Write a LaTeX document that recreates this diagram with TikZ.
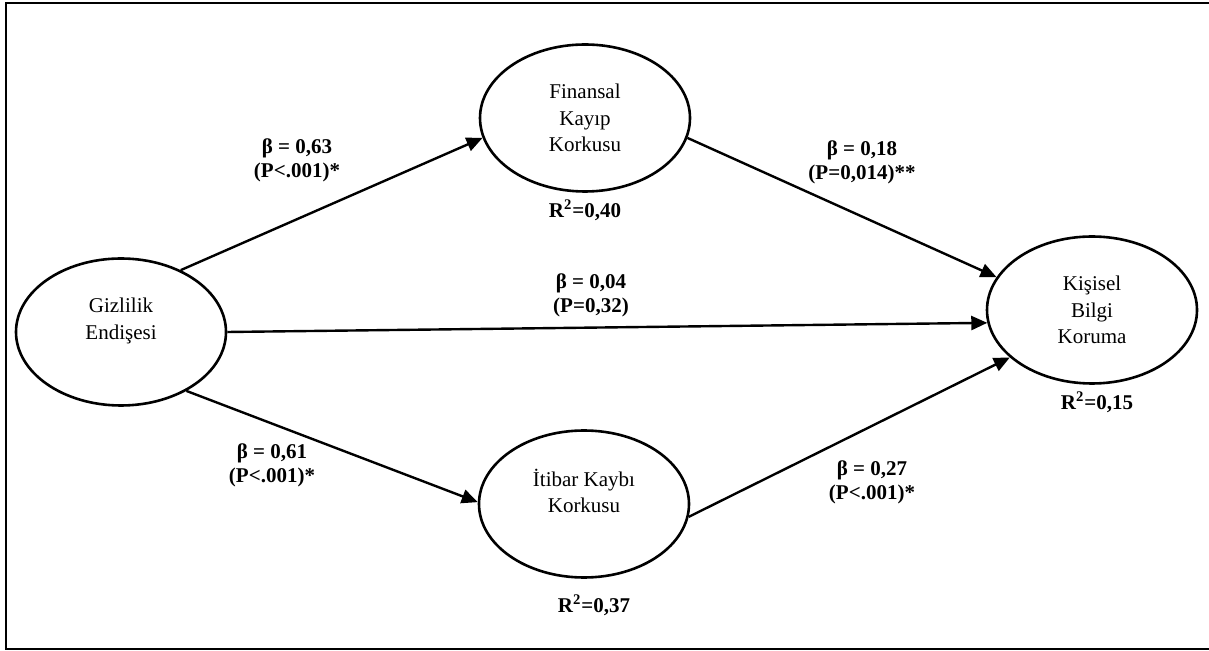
\documentclass[tikz,border=0pt]{standalone}
\usepackage{fontspec}
\setmainfont{Liberation Serif}
\usetikzlibrary{shapes.geometric,positioning,arrows.meta}
\tikzset{
  >={Triangle[length=8pt,width=7pt]},
  construct/.style={ellipse,draw,line width=1.3pt,minimum width=105pt,
    minimum height=73.5pt,align=center,font=\fontsize{10.5}{13.25}\selectfont},
  coef/.style={align=center,font=\bfseries\fontsize{10.5}{12}\selectfont},
  rsq/.style={font=\bfseries\fontsize{10.5}{12}\selectfont},
  link/.style={->,line width=1.2pt},
  outerbox/.style={draw=black,line width=1.2pt}
}
\begin{document}
\begin{tikzpicture}[x=0.5pt,y=-0.5pt]
  \useasboundingbox (0,0) rectangle (1209,651);
  \draw[outerbox] (6,3) rectangle (1216,649);

  % constructs
  \node[construct] (giz) at (121,332) {Gizlilik\\Endişesi\\\mbox{}};
  \node[construct] (fin) at (585,118) {Finansal\\Kayıp\\Korkusu};
  \node[construct] (iti) at (584,504) {İtibar Kaybı\\Korkusu\\\mbox{}};
  \node[construct] (kis) at (1092,310) {Kişisel\\Bilgi\\Koruma};

  % explained variance
  \node[rsq,below=0pt of fin] (rfin) {R\textsuperscript{2}=0,40};
  \node[rsq,below=4.5pt of iti,xshift=5pt] (riti) {R\textsuperscript{2}=0,37};
  \node[rsq,below=0pt of kis,xshift=2.5pt] (rkis) {R\textsuperscript{2}=0,15};

  % paths
  \draw[link] (giz.46) -- (fin.191);
  \draw[link] (giz.east) -- (kis.187);
  \draw[link] (giz.-42) -- (iti.179);
  \draw[link] (fin.-11) -- (kis.161);
  \draw[link] (iti.-7) -- (kis.210);

  % coefficients
  \node[coef] (cgf) at (297,160) {β = 0,63\\(P<.001)*};
  \node[coef] (cfk) at (862,162) {β = 0,18\\(P=0,014)**};
  \node[coef] (cgk) at (591,295) {β = 0,04\\(P=0,32)};
  \node[coef] (cgi) at (272,465) {β = 0,61\\(P<.001)*};
  \node[coef] (cik) at (872,482) {β = 0,27\\(P<.001)*};
\end{tikzpicture}
\end{document}
